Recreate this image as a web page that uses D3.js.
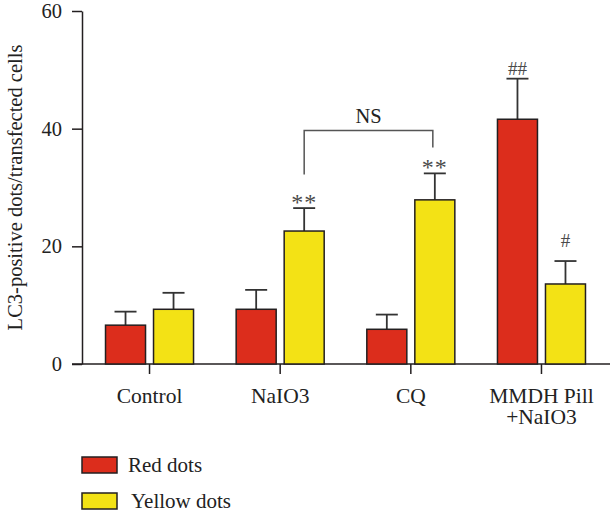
<!DOCTYPE html>
<html>
<head>
<meta charset="utf-8">
<script src="https://cdn.jsdelivr.net/npm/d3@7"></script>
<style>
body{margin:0;background:#fff;}
svg text{font-family:"Liberation Serif","Times New Roman",serif;fill:#222;}
</style>
</head>
<body>
<main></main>
<script>
const groups=["Control","NaIO3","CQ","MMDH Pill\n+NaIO3"];
const series=["Red dots","Yellow dots"];
const redVals=[6.6,9.3,5.9,41.6];
const redErr=[2.3,3.3,2.5,6.9];
const yellowVals=[9.3,22.6,27.9,13.6];
const yellowErr=[2.8,3.9,4.5,3.9];
const yTicks=[0,20,40,60];
// significance labels: [group index, series index, text]
const marks=[[1,1,"**"],[2,1,"**"],[3,0,"##"],[3,1,"#"]];
const markGap=[-2,-2,4,14];
// NS bracket: left leg end, top, right leg end (in y units)
const nsBracket=[32.2,39.7,36.8];

const w=610,h=513;
const colors={"Red dots":"#dc2d1c","Yellow dots":"#f3e215"};
const stroke="#231f20";

const svg=d3.select("main").append("svg")
  .attr("width",w).attr("height",h);

const x=d3.scaleBand().domain(groups).range([84.2,606.8]);
const xs=d3.scaleBand().domain(series).range([0,x.bandwidth()])
  .paddingInner(8/48).paddingOuter(0.444);
const y=d3.scaleLinear().domain([0,60]).range([364,11]);

const data=[];
groups.forEach((g,i)=>{
  data.push({g:g,s:series[0],v:redVals[i],e:redErr[i]});
  data.push({g:g,s:series[1],v:yellowVals[i],e:yellowErr[i]});
});
const cx=d=>x(d.g)+xs(d.s)+xs.bandwidth()/2;

// y axis
const yAxis=d3.axisLeft(y).tickValues(yTicks).tickSize(10).tickPadding(10).tickSizeOuter(0);
const gy=svg.append("g").attr("transform","translate(82,0)").call(yAxis);
gy.attr("font-family",null);
gy.selectAll("text").style("font-size","20.5px");
gy.selectAll("line,path").attr("stroke",stroke).attr("stroke-width",1.5);

// x axis
svg.append("line").attr("x1",72).attr("x2",610).attr("y1",y(0)).attr("y2",y(0))
  .attr("stroke",stroke).attr("stroke-width",1.5);
const xAxis=d3.axisBottom(x).tickSize(10).tickPadding(14).tickSizeOuter(0).tickFormat("");
const gx=svg.append("g").attr("transform","translate(0,"+y(0)+")").call(xAxis);
gx.select(".domain").remove();
gx.selectAll("line").attr("stroke",stroke).attr("stroke-width",1.5);
gx.selectAll(".tick").each(function(d){
  const t=d3.select(this).append("text").attr("y",38.5).attr("text-anchor","middle")
    .style("font-size","21.5px");
  d.split("\n").forEach((ln,k)=>{
    t.append("tspan").attr("x",0).attr("dy",k?"1.02em":0).text(ln);
  });
});

// y label
svg.append("text")
  .attr("transform","translate(22,"+((y(0)+y(60))/2)+") rotate(-90)")
  .attr("text-anchor","middle")
  .style("font-size","20.5px")
  .text("LC3-positive dots/transfected cells");

// error bars
const eb=svg.append("g").attr("stroke","#333").attr("stroke-width",1.8);
eb.selectAll(".ev").data(data).enter().append("line")
  .attr("x1",cx).attr("x2",cx).attr("y1",d=>y(d.v)).attr("y2",d=>y(d.v+d.e));
eb.selectAll(".ec").data(data).enter().append("line")
  .attr("x1",d=>cx(d)-11).attr("x2",d=>cx(d)+11)
  .attr("y1",d=>y(d.v+d.e)).attr("y2",d=>y(d.v+d.e));

// bars
svg.selectAll(".bar").data(data).enter().append("rect")
  .attr("class","bar")
  .attr("x",d=>x(d.g)+xs(d.s))
  .attr("y",d=>y(d.v))
  .attr("width",xs.bandwidth())
  .attr("height",d=>y(0)-y(d.v))
  .attr("fill",d=>colors[d.s])
  .attr("stroke",stroke).attr("stroke-width",1.5);

// significance marks
marks.forEach((m,i)=>{
  const d=data[m[0]*2+m[1]];
  svg.append("text").attr("x",cx(d)).attr("y",y(d.v+d.e)-markGap[i])
    .attr("text-anchor","middle")
    .style("font-size",m[2]=="**"?"24px":"19px").style("fill","#4a4a4a")
    .style("letter-spacing",m[2]=="**"?"1px":"0px")
    .text(m[2]);
});

// NS bracket
const xl=cx(data[3]), xr=cx(data[5])-2;
svg.append("path")
  .attr("d","M"+xl+","+y(nsBracket[0])+"V"+y(nsBracket[1])+"H"+xr+"V"+y(nsBracket[2]))
  .attr("fill","none").attr("stroke","#555").attr("stroke-width",1.5);
svg.append("text").attr("x",(xl+xr)/2).attr("y",y(nsBracket[1])-7)
  .attr("text-anchor","middle").style("font-size","20.5px").text("NS");

// legend
const legend=svg.append("g").attr("transform","translate(82,457)");
series.forEach((s,i)=>{
  legend.append("rect").attr("x",0).attr("y",i*36).attr("width",35).attr("height",16)
    .attr("fill",colors[s]).attr("stroke",stroke).attr("stroke-width",1.5);
  legend.append("text").attr("x",46+i*3).attr("y",i*36+15)
    .style("font-size","21px").text(s);
});
</script>
</body>
</html>
